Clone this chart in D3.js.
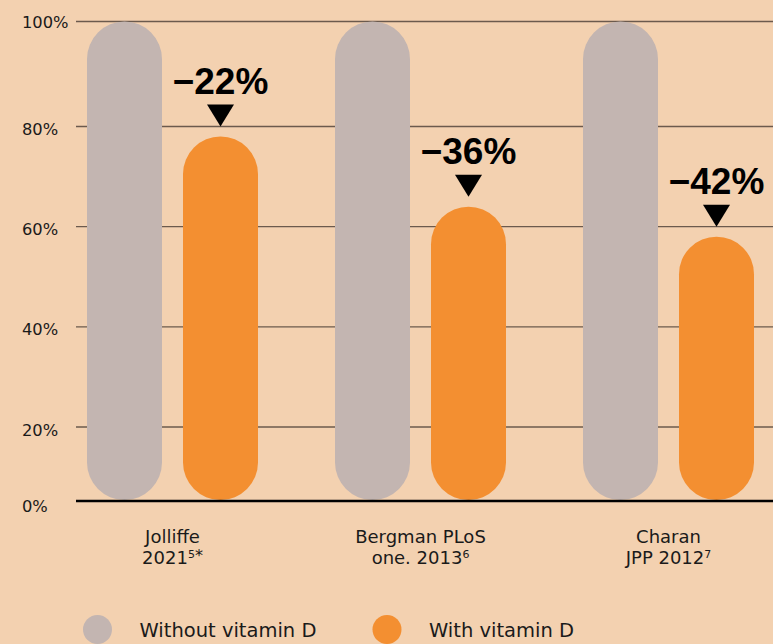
<!DOCTYPE html>
<html>
<head>
<meta charset="utf-8">
<script src="https://cdn.jsdelivr.net/npm/d3@7"></script>
<style>
  html, body { margin: 0; padding: 0; background: #F3D1B0; }
  svg { display: block; }
</style>
</head>
<body>
<div id="chart"></div>
<script>
// ---- data ----
const categories = ["Jolliffe 2021", "Bergman PLoS one. 2013", "Charan JPP 2012"];
const categoryLine1 = ["Jolliffe", "Bergman PLoS", "Charan"];
const categoryLine2 = ["2021", "one. 2013", "JPP 2012"];
const categorySup = ["5", "6", "7"];
const categorySuffix = ["*", "", ""];
const seriesNames = ["Without vitamin D", "With vitamin D"];
const withoutVitD = [100, 100, 100];
const withVitD = [78, 64, 58];
const reductionLabels = ["\u221222%", "\u221236%", "\u221242%"];
const yTicks = [0, 20, 40, 60, 80, 100];
const yTickLabels = ["0%", "20%", "40%", "60%", "80%", "100%"];

const colors = { "Without vitamin D": "#C3B5B1", "With vitamin D": "#F38F31" };

const W = 773, H = 644;
const svg = d3.select("#chart").append("svg").attr("width", W).attr("height", H);
svg.append("rect").attr("width", W).attr("height", H).attr("fill", "#F3D1B0");

const labelFont = "'DejaVu Sans', sans-serif";

// piecewise y scale (as in the original graphic)
const y = d3.scaleLinear().domain([0, 20, 80, 100]).range([500, 427, 126.5, 21.5]);
const x0 = d3.scaleBand().domain(categories).range([48.5, 792.5]).padding(0);
const x1 = d3.scaleBand().domain(seriesNames).range([38.5, 209.5]).paddingInner(0.21875).paddingOuter(0);

const gridLeft = 76, gridRight = W;

// gridlines
svg.append("g").selectAll("line").data(yTicks.filter(d => d > 0)).join("line")
  .attr("x1", gridLeft).attr("x2", gridRight)
  .attr("y1", d => y(d)).attr("y2", d => y(d))
  .attr("stroke", "#6B5A4D").attr("stroke-width", 1.3);

// y labels
svg.append("g").selectAll("text").data(yTicks).join("text")
  .attr("x", 22)
  .attr("y", d => y(d) + (d === 0 ? 6 : (d === 100 ? 1 : 3)))
  .attr("dominant-baseline", "central")
  .attr("font-family", labelFont).attr("font-size", 16.3).attr("fill", "#1a1a1a")
  .text((d, i) => yTickLabels[i]);

// bars
const rows = categories.map((c, i) => ({ c, i, vals: [
  { s: seriesNames[0], v: withoutVitD[i] },
  { s: seriesNames[1], v: withVitD[i] }
]}));
const groups = svg.append("g").selectAll("g").data(rows).join("g")
  .attr("transform", d => `translate(${x0(d.c)},0)`);
groups.selectAll("rect").data(d => d.vals).join("rect")
  .attr("x", d => x1(d.s))
  .attr("width", x1.bandwidth())
  .attr("y", d => y(d.v))
  .attr("height", d => y(0) - y(d.v))
  .attr("rx", x1.bandwidth() / 2)
  .attr("fill", d => colors[d.s]);

// baseline
svg.append("line").attr("x1", gridLeft).attr("x2", gridRight)
  .attr("y1", y(0) + 1).attr("y2", y(0) + 1)
  .attr("stroke", "#000").attr("stroke-width", 2.6);

// annotations
groups.each(function (d) {
  const g = d3.select(this);
  const cx = x1(seriesNames[1]) + x1.bandwidth() / 2;
  const top = y(withVitD[d.i]);
  g.append("path")
    .attr("d", `M${cx - 13.5},${top - 32} L${cx + 13.5},${top - 32} L${cx},${top - 10} Z`)
    .attr("fill", "#000");
  g.append("text")
    .attr("x", cx).attr("y", top - 43)
    .attr("text-anchor", "middle")
    .attr("font-family", "'Liberation Sans', Arial, sans-serif")
    .attr("font-weight", "bold").attr("font-size", 37).attr("fill", "#000")
    .text(reductionLabels[d.i]);
});

// category labels
groups.each(function (d) {
  const g = d3.select(this);
  const cx = x0.bandwidth() / 2;
  g.append("text").attr("text-anchor", "middle")
    .attr("font-family", labelFont).attr("font-size", 18).attr("fill", "#1a1a1a")
    .attr("x", cx).attr("y", 543).text(categoryLine1[d.i]);
  const t = g.append("text").attr("text-anchor", "middle")
    .attr("font-family", labelFont).attr("font-size", 18).attr("fill", "#1a1a1a")
    .attr("x", cx).attr("y", 564);
  t.append("tspan").text(categoryLine2[d.i]);
  t.append("tspan").attr("font-size", 11).attr("dy", -6).text(categorySup[d.i]);
  if (categorySuffix[d.i]) t.append("tspan").attr("font-size", 16).attr("dy", 3).text(categorySuffix[d.i]);
});

// legend
const legendX = [97.5, 387];
const legend = svg.append("g").selectAll("g").data(seriesNames).join("g")
  .attr("transform", (d, i) => `translate(${legendX[i]},629.5)`);
legend.append("circle").attr("r", 14.5).attr("fill", d => colors[d]);
legend.append("text").attr("x", 42).attr("y", 7.5)
  .attr("font-family", labelFont).attr("font-size", 19.5)
  .attr("fill", "#1a1a1a")
  .text(d => d);
</script>
</body>
</html>
